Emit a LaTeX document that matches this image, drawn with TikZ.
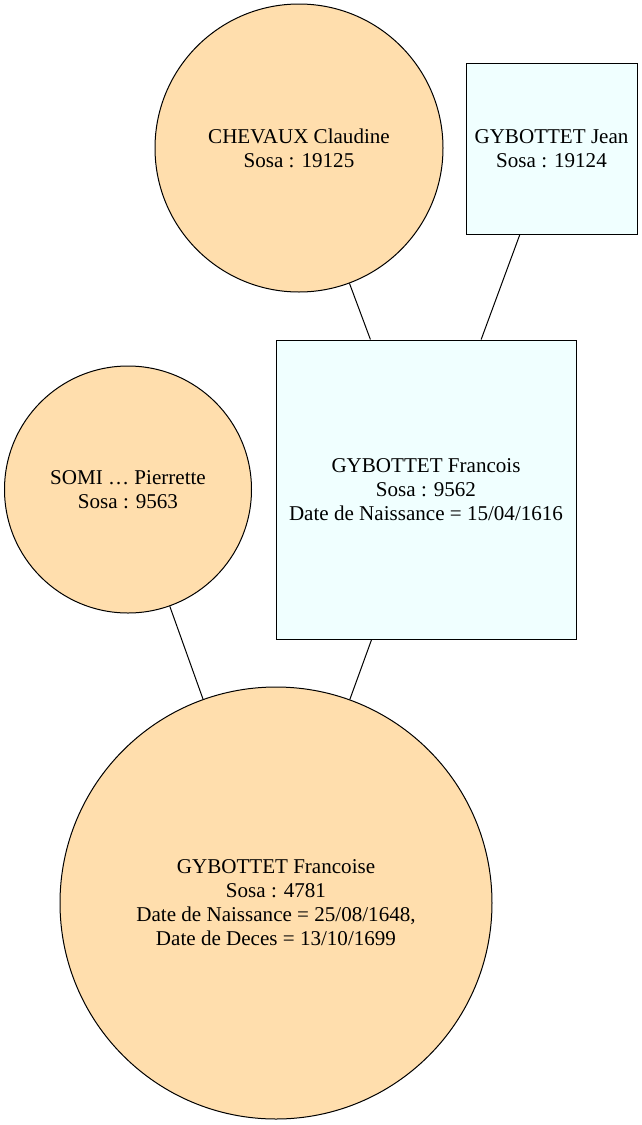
\documentclass[tikz,border=0pt]{standalone}
\usepackage{fontspec}
\setmainfont{Liberation Serif}
\usetikzlibrary{positioning}
\definecolor{gvFemale}{HTML}{FFDEAD}
\definecolor{gvMale}{HTML}{F0FFFF}
\tikzset{
  person/.style={draw, line width=0.75pt, align=center, inner sep=0pt,
    font=\fontsize{15.8}{18}\selectfont},
  female/.style={person, circle, fill=gvFemale},
  male/.style={person, rectangle, fill=gvMale},
  parent/.style={line width=0.75pt, black}
}

\begin{document}
\begin{tikzpicture}[x=0.75pt, y=-0.75pt]
  \useasboundingbox (0,0) rectangle (642,1125);
  \node[female, minimum size=216pt] (claudine) at (299,148) {CHEVAUX Claudine\\Sosa : 19125};
  \node[male, minimum size=128.25pt] (jean) at (551.5,148.5) {GYBOTTET Jean\\Sosa : 19124};
  \node[male, minimum width=225pt, minimum height=224.25pt] (francois) at (426,489.5) {GYBOTTET Francois\\Sosa : 9562\\Date de Naissance = 15/04/1616};
  \node[female, minimum size=185.25pt] (pierrette) at (128,489.5) {SOMI … Pierrette\\Sosa : 9563};
  \node[female, minimum size=324pt] (francoise) at (276,903) {GYBOTTET Francoise\\Sosa : 4781\\Date de Naissance = 25/08/1648,\\Date de Deces = 13/10/1699};
  \draw[parent] (claudine) -- (francois);
  \draw[parent] (jean) -- (francois);
  \draw[parent] (pierrette) -- (francoise);
  \draw[parent] (francois) -- (francoise);
\end{tikzpicture}
\end{document}
